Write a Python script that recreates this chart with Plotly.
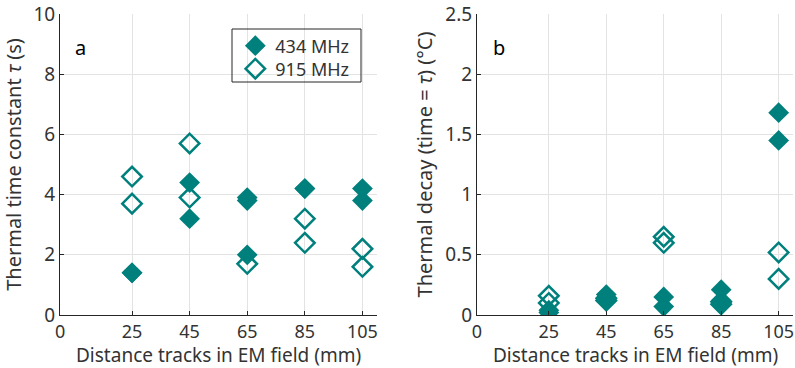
import plotly.graph_objects as go

TEAL = "#00807c"
FONT = "Noto Sans"
FS = 20

xticks = [0, 25, 45, 65, 85, 105]
xtitle = "Distance tracks in EM field (mm)"

# Panel a: thermal time constant tau (s)
a_434_x = [25, 25, 45, 45, 65, 65, 65, 85, 85, 105, 105]
a_434_y = [1.4, 1.4, 4.4, 3.2, 3.9, 3.8, 2.0, 4.2, 4.2, 4.2, 3.8]
a_915_x = [25, 25, 45, 45, 65, 85, 85, 105, 105]
a_915_y = [4.6, 3.7, 5.7, 3.9, 1.7, 3.2, 2.4, 2.2, 1.6]

# Panel b: thermal decay at time = tau (°C)
b_434_x = [25, 25, 45, 45, 65, 65, 85, 85, 105, 105]
b_434_y = [0.04, 0.02, 0.17, 0.12, 0.15, 0.07, 0.21, 0.12, 1.68, 1.45]
b_915_x = [25, 25, 45, 45, 65, 65, 85, 85, 105, 105]
b_915_y = [0.16, 0.10, 0.14, 0.12, 0.65, 0.60, 0.11, 0.09, 0.52, 0.30]

fig = go.Figure()

filled = dict(symbol="diamond", size=16, color=TEAL, line=dict(width=0))
opened = dict(symbol="diamond-open", size=15, color=TEAL, line=dict(width=2.5, color=TEAL))

fig.add_trace(go.Scatter(x=a_434_x, y=a_434_y, mode="markers", name="434 MHz",
                         marker=filled, xaxis="x", yaxis="y", legend="legend"))
fig.add_trace(go.Scatter(x=a_915_x, y=a_915_y, mode="markers", name="915 MHz",
                         marker=opened, xaxis="x", yaxis="y", legend="legend2"))
fig.add_trace(go.Scatter(x=b_434_x, y=b_434_y, mode="markers", name="434 MHz",
                         marker=filled, xaxis="x2", yaxis="y2", showlegend=False))
fig.add_trace(go.Scatter(x=b_915_x, y=b_915_y, mode="markers", name="915 MHz",
                         marker=opened, xaxis="x2", yaxis="y2", showlegend=False))

axis_common = dict(
    showline=True, linecolor="#262626", linewidth=1,
    showgrid=True, gridcolor="#e3e3e3", gridwidth=1,
    ticks="inside", ticklen=4, tickcolor="#262626",
    zeroline=False, automargin=False, ticklabeloverflow="allow",
)
xtickfont = dict(family=FONT, size=18, color="#333333")
ytickfont = dict(family=FONT, size=19, color="#333333")
title_font = dict(family=FONT, size=FS, color="#333333")
xtitle_font = dict(family=FONT, size=19, color="#333333")

legend_common = dict(xanchor="left", yanchor="middle", bgcolor="rgba(0,0,0,0)",
                     borderwidth=0, font=dict(family=FONT, size=18, color="#333333"),
                     itemsizing="trace", tracegroupgap=0)

dom_a = [0.0755, 0.474]
dom_b = [0.600, 0.9975]

fig.update_layout(
    width=795, height=368,
    margin=dict(l=0, r=0, t=0, b=0, autoexpand=False),
    paper_bgcolor="white", plot_bgcolor="white",
    font=dict(family=FONT, color="#262626"),
    xaxis=dict(domain=dom_a, range=[0, 110], tickvals=xticks,
               tickfont=xtickfont, anchor="y", **axis_common),
    yaxis=dict(domain=[0.144, 0.962], range=[0, 10], tickvals=[0, 2, 4, 6, 8, 10],
               tickfont=ytickfont,
               title=dict(text="Thermal time constant <i>τ</i> (s)", font=title_font, standoff=7),
               anchor="x", **axis_common),
    xaxis2=dict(domain=dom_b, range=[0, 110], tickvals=xticks,
                tickfont=xtickfont, anchor="y2", **axis_common),
    yaxis2=dict(domain=[0.144, 0.962], range=[0, 2.5], tickvals=[0, 0.5, 1, 1.5, 2, 2.5],
                ticktext=["0", "0.5", "1", "1.5", "2", "2.5"], tickfont=ytickfont,
                title=dict(text="Thermal decay (time = <i>τ</i>) (°C)", font=title_font, standoff=7),
                anchor="x2", **axis_common),
    legend=dict(x=0.296, y=1 - 46 / 368, **legend_common),
    legend2=dict(x=0.296, y=1 - 69 / 368, **legend_common),
    showlegend=True,
    shapes=[dict(type="rect", xref="paper", yref="paper",
                 x0=232 / 795, x1=361 / 795, y0=1 - 82 / 368, y1=1 - 29 / 368,
                 line=dict(color="#262626", width=1), fillcolor="rgba(0,0,0,0)", layer="above")],
    annotations=[
        dict(text="a", x=0.092, y=0.87, xref="paper", yref="paper", showarrow=False,
             font=dict(family=FONT, size=FS, color="black"), xanchor="left", yanchor="middle"),
        dict(text="b", x=0.617, y=0.87, xref="paper", yref="paper", showarrow=False,
             font=dict(family=FONT, size=FS, color="black"), xanchor="left", yanchor="middle"),
        dict(text=xtitle, x=sum(dom_a) / 2, y=0, xref="paper", yref="paper", showarrow=False,
             font=xtitle_font, xanchor="center", yanchor="bottom", yshift=-2),
        dict(text=xtitle, x=sum(dom_b) / 2, y=0, xref="paper", yref="paper", showarrow=False,
             font=xtitle_font, xanchor="center", yanchor="bottom", yshift=-2),
    ],
)

fig.write_html("out.html")
